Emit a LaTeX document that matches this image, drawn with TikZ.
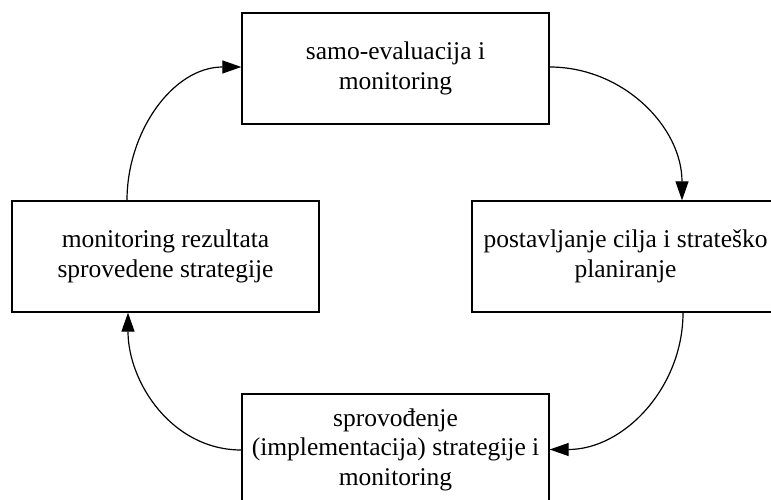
\documentclass[tikz,border=0pt]{standalone}
\usepackage{fontspec}
\setmainfont{Liberation Serif}
\newfontfamily\boxfont{Liberation Serif}
\usetikzlibrary{arrows.meta}

\tikzset{
  stage/.style={draw, line width=1.3bp, minimum width=307bp, minimum height=111bp,
    inner sep=0pt, align=center, font=\boxfont\fontsize{25.5bp}{29.5bp}\selectfont},
  flow/.style={line width=1.2bp, -{Triangle[length=19bp,width=13bp]}}
}

\begin{document}
\begin{tikzpicture}[x=1bp, y=-1bp]
  \useasboundingbox (0,0) rectangle (771,500);
  \clip (0,0) rectangle (771,500);
  \fill[white] (0,0) rectangle (771,500);

  % the four stages of the cycle
  \node[stage] (eval)  at (395.5,68.5)  {samo-evaluacija i\\monitoring};
  \node[stage] (plan)  at (625.5,256.5) {postavljanje cilja i strateško\\planiranje};
  \node[stage] (impl)  at (395.5,449.5) {sprovođenje\\(implementacija) strategije i\\monitoring};
  \node[stage] (res)   at (165.5,256.5) {monitoring rezultata\\sprovedene strategije};

  % curved connectors running clockwise
  \draw[flow] ([yshift=1.5bp]eval.east) to[out=0, in=90] ([xshift=56.5bp]plan.north);
  \draw[flow] ([xshift=57.5bp]plan.south) to[out=-90, in=0] (impl.east);
  \draw[flow] ([yshift=-0.5bp]impl.west) to[out=180, in=-90] ([xshift=-37.5bp]res.south);
  \draw[flow] ([xshift=-38.5bp]res.north) to[out=90, in=180] ([yshift=1.5bp]eval.west);
\end{tikzpicture}
\end{document}
